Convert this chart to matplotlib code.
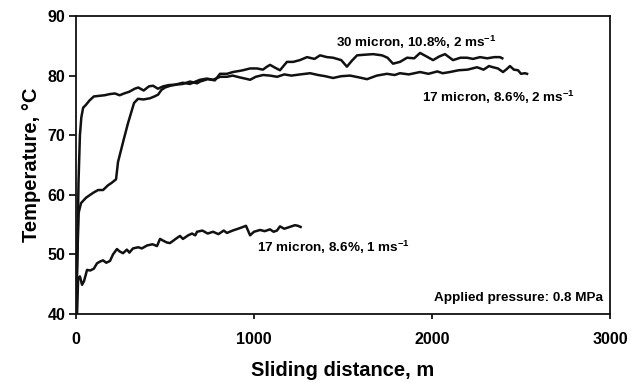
import matplotlib
matplotlib.use("Agg")
import matplotlib.pyplot as plt

plt.rcParams['font.family'] = ['Liberation Sans', 'DejaVu Sans']
plt.rcParams['font.weight'] = 'bold'
plt.rcParams['mathtext.fontset'] = 'custom'
plt.rcParams['mathtext.rm'] = 'Liberation Sans:bold'
plt.rcParams['mathtext.bf'] = 'Liberation Sans:bold'
plt.rcParams['mathtext.it'] = 'Liberation Sans:bold'
plt.rcParams['mathtext.default'] = 'rm'

# 17 micron, 8.6%, 2 m/s
xa = [0, 8, 14, 22, 30, 40, 56, 75, 100, 129, 160, 190, 219, 245, 270, 300, 330, 350, 380, 410,
      433, 460, 490, 520, 560, 600, 640, 680, 697, 735, 770, 810, 848, 880, 920, 950, 978, 1010,
      1051, 1090, 1130, 1170, 1210, 1260, 1315, 1360, 1400, 1444, 1490, 1540, 1590, 1635, 1690,
      1747, 1790, 1820, 1870, 1933, 1980, 2030, 2060, 2101, 2150, 2200, 2253, 2290, 2320, 2343,
      2370, 2399, 2420, 2438, 2460, 2483, 2500, 2522, 2534]
ya = [40, 50, 62, 70, 73, 74.6, 75.1, 75.8, 76.5, 76.6, 76.7, 76.9, 77.0, 76.7, 77.0, 77.3, 77.8,
      78.0, 77.5, 78.2, 78.3, 77.8, 78.2, 78.4, 78.5, 78.8, 78.6, 79.1, 79.3, 79.5, 79.3, 79.8,
      79.8, 80.0, 79.7, 79.5, 79.3, 79.8, 80.1, 80.0, 79.8, 80.2, 80.0, 80.2, 80.4, 80.1, 79.9,
      79.6, 79.9, 80.0, 79.7, 79.4, 80.0, 80.3, 80.1, 80.4, 80.2, 80.6, 80.3, 80.7, 80.4, 80.6,
      80.9, 81.0, 81.4, 81.0, 81.6, 81.4, 81.2, 80.6, 81.1, 81.6, 81.0, 80.9, 80.3, 80.4, 80.3]

# 30 micron, 10.8%, 2 m/s
xb = [0, 8, 15, 28, 56, 80, 100, 124, 152, 180, 200, 225, 236, 253, 270, 292, 310, 326, 348, 380,
      416, 440, 461, 480, 500, 530, 567, 600, 640, 680, 697, 740, 780, 809, 848, 882, 921, 938,
      978, 1017, 1050, 1073, 1090, 1120, 1146, 1185, 1220, 1258, 1298, 1340, 1371, 1410, 1444,
      1490, 1522, 1550, 1579, 1620, 1669, 1719, 1750, 1781, 1820, 1860, 1900, 1933, 1970, 2006,
      2040, 2073, 2100, 2118, 2160, 2197, 2230, 2270, 2310, 2350, 2382, 2395]
yb = [40, 50, 57, 58.6, 59.5, 60.0, 60.4, 60.8, 60.8, 61.6, 62.0, 62.6, 65.5, 67.5, 69.5, 72,
      73.8, 75.4, 76.1, 76.0, 76.2, 76.5, 76.8, 77.6, 78.0, 78.3, 78.5, 78.6, 79.0, 78.7, 79.0,
      79.4, 79.2, 80.3, 80.3, 80.6, 80.8, 80.9, 81.2, 81.2, 81.0, 81.5, 81.8, 81.3, 80.9, 82.3,
      82.3, 82.6, 83.1, 82.8, 83.4, 83.1, 83.0, 82.6, 81.5, 82.5, 83.4, 83.5, 83.6, 83.4, 83.0,
      82.0, 82.3, 83.0, 82.9, 83.8, 83.2, 82.6, 83.2, 83.6, 83.0, 82.6, 83.0, 83.0, 82.8, 83.1,
      82.9, 83.1, 83.1, 82.9]

# 17 micron, 8.6%, 1 m/s
xc = [0, 6, 12, 22, 34, 45, 62, 80, 100, 118, 135, 152, 170, 191, 208, 230, 245, 264, 286, 300,
      320, 350, 370, 399, 430, 455, 472, 490, 510, 528, 560, 584, 601, 630, 652, 670, 680, 710,
      740, 770, 800, 830, 848, 880, 910, 938, 955, 978, 1000, 1034, 1060, 1090, 1110, 1129, 1146,
      1170, 1200, 1230, 1247, 1262]
yc = [40, 40, 46, 46.3, 44.9, 45.5, 47.4, 47.3, 47.6, 48.5, 48.8, 49.0, 48.6, 48.9, 50.0, 50.9,
      50.5, 50.2, 50.8, 50.3, 51.0, 51.2, 51.0, 51.5, 51.7, 51.4, 52.6, 52.3, 52.0, 51.9, 52.6,
      53.1, 52.6, 53.2, 53.5, 53.2, 53.8, 54.0, 53.5, 53.8, 53.4, 54.0, 53.6, 54.0, 54.3, 54.6,
      54.8, 53.2, 53.8, 54.1, 53.9, 54.2, 53.8, 54.0, 54.7, 54.3, 54.6, 54.9, 54.8, 54.6]

labels = ["17 micron, 8.6%, 2 ms$^{-1}$", "30 micron, 10.8%, 2 ms$^{-1}$",
          "17 micron, 8.6%, 1 ms$^{-1}$"]
xticks = [0, 1000, 2000, 3000]
yticks = [40, 50, 60, 70, 80, 90]

fig = plt.figure(figsize=(6.39, 3.83), dpi=100)
ax = fig.add_axes([76/639, (383-314)/383, (610-76)/639, (314-16)/383])

for x, y in [(xa, ya), (xb, yb), (xc, yc)]:
    ax.plot(x, y, color='#111111', lw=1.8, solid_joinstyle='round')

ax.set_xlim(0, 3000)
ax.set_ylim(40, 90)
ax.set_xticks(xticks)
ax.set_yticks(yticks)
ax.tick_params(axis='x', direction='out', length=3.5, width=1.2, pad=9.5, labelsize=11.5)
ax.tick_params(axis='y', direction='out', length=5, width=1.2, pad=2.5, labelsize=11.5)
for lab in ax.get_xticklabels() + ax.get_yticklabels():
    lab.set_fontweight('bold')
for s in ax.spines.values():
    s.set_linewidth(1.3)
    s.set_color('#111111')

ax.set_xlabel("Sliding distance, m", fontsize=14.5, fontweight='bold', labelpad=10)
ax.set_ylabel("Temperature, °C", fontsize=14.5, fontweight='bold', labelpad=5)

fs = 9.7
ax.text(1910, 85.6, labels[1], ha='center', va='center', fontsize=fs, fontweight='bold')
ax.text(2371, 76.4, labels[0], ha='center', va='center', fontsize=fs, fontweight='bold')
ax.text(1444, 51.1, labels[2], ha='center', va='center', fontsize=fs, fontweight='bold')
ax.text(2960, 42.7, "Applied pressure: 0.8 MPa", ha='right', va='center', fontsize=fs,
        fontweight='bold')

fig.savefig("out.png", dpi=100)
